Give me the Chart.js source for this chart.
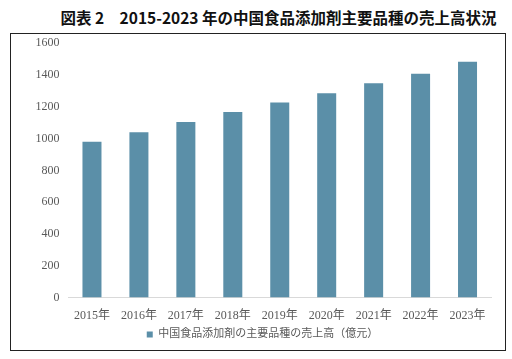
<!DOCTYPE html>
<html>
<head>
<meta charset="utf-8">
<script src="https://cdn.jsdelivr.net/npm/chart.js@4.4.1/dist/chart.umd.min.js"></script>
<style>
  body { margin: 0; background: #fff; width: 512px; height: 359px; position: relative; overflow: hidden; }
  #title {
    position: absolute; left: 0; top: 6px; width: 557px; text-align: center;
    font-family: "Noto Sans CJK JP", "Noto Sans", sans-serif; font-weight: bold;
    font-size: 15.5px; color: #111; white-space: nowrap; line-height: 22px;
  }
  #box {
    position: absolute; left: 10px; top: 33px; width: 494px; height: 316px;
    border: 1px solid #222;
  }
  #salesChart { position: absolute; left: 11px; top: 27px; display: block; }
</style>
</head>
<body>
<div id="title">図表 2　2015-2023 年の中国食品添加剤主要品種の売上高状況</div>
<div id="box"></div>
<canvas id="salesChart" width="494" height="323"></canvas>
<script>
// 2015-2023 sales of major food additive products (億元)
const years = ['2015年', '2016年', '2017年', '2018年', '2019年', '2020年', '2021年', '2022年', '2023年'];
const sales = [980, 1040, 1104, 1167, 1227, 1285, 1348, 1408, 1483];
const seriesName = '中国食品添加剤の主要品種の売上高（億元）';

const barColor = '#5b8fa8';
const textColor = '#595959';
const serif = '"Liberation Serif", "Noto Sans CJK JP", serif';

const ctx = document.getElementById('salesChart').getContext('2d');
new Chart(ctx, {
    type: 'bar',
    data: {
        labels: years,
        datasets: [{
            label: seriesName,
            data: sales,
            backgroundColor: barColor,
            borderWidth: 0,
            categoryPercentage: 1,
            barPercentage: 0.405
        }]
    },
    options: {
        responsive: false,
        animation: false,
        layout: { padding: { left: 23, right: 14, top: 2, bottom: 0 } },
        plugins: {
            tooltip: { enabled: false },
            legend: {
                position: 'bottom',
                labels: {
                    color: textColor,
                    boxWidth: 6,
                    boxHeight: 6,
                    padding: 3,
                    font: { family: serif, size: 11 }
                }
            }
        },
        scales: {
            x: {
                grid: { display: false },
                border: { display: true, color: '#d9d9d9', width: 1 },
                ticks: { color: textColor, padding: 3, font: { family: serif, size: 12 } }
            },
            y: {
                min: 0,
                max: 1600,
                grid: { display: false, drawTicks: false },
                border: { display: false },
                afterFit: (scale) => { scale.width = 34.5; },
                ticks: {
                    stepSize: 200,
                    padding: 9,
                    color: textColor,
                    font: { family: serif, size: 12 },
                    callback: (value) => String(value)
                }
            }
        }
    }
});
</script>
</body>
</html>
